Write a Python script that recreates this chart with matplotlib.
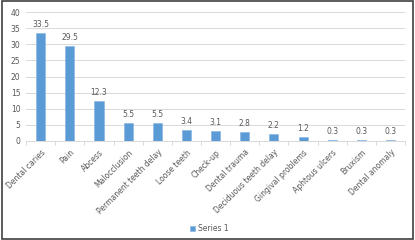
import matplotlib
matplotlib.use("Agg")
import matplotlib.pyplot as plt
import numpy as np

categories = ["Dental caries", "Pain", "Abcess", "Malocclusion", "Permanent teeth delay",
              "Loose teeth", "Check-up", "Dental trauma", "Deciduous teeth delay",
              "Gingival problems", "Aphtous ulcers", "Bruxism", "Dental anomaly"]
values = [33.5, 29.5, 12.3, 5.5, 5.5, 3.4, 3.1, 2.8, 2.2, 1.2, 0.3, 0.3, 0.3]
yticks = [0, 5, 10, 15, 20, 25, 30, 35, 40]

txt = "#595959"
blue = "#5B9BD5"

fig = plt.figure(figsize=(4.15, 2.4), dpi=100)
ax = fig.add_axes([0.063, 0.4125, 0.913, 0.5375])

x = np.arange(len(categories))
ax.bar(x, values, width=0.31, color=blue, edgecolor="#8DB8E2", linewidth=0.5, label="Series 1", zorder=3)
for xi, v in zip(x, values):
    ax.text(xi, v + 1.2, f"{v}", ha="center", va="bottom", fontsize=5.5, color=txt)

ax.set_xlim(-0.5, len(categories) - 0.5)
ax.set_ylim(0, 40)
ax.set_yticks(yticks)
ax.tick_params(axis="y", length=0, labelsize=5.5, labelcolor=txt, pad=4)
ax.grid(axis="y", color="#D9D9D9", linewidth=0.7, zorder=0)

ax.set_xticks(x)
ax.set_xticklabels(categories, rotation=45, ha="right", rotation_mode="anchor", fontsize=5.5, color=txt)
ax.tick_params(axis="x", length=0, pad=5)
ax.set_xticks(np.arange(-0.5, len(categories), 1), minor=True)
ax.tick_params(axis="x", which="minor", length=3, color="#D9D9D9", width=0.7)

for s in ["top", "right", "left"]:
    ax.spines[s].set_visible(False)
ax.spines["bottom"].set_color("#D9D9D9")
ax.spines["bottom"].set_linewidth(0.7)

fig.legend(loc="lower center", bbox_to_anchor=(0.505, 0.0), frameon=False, fontsize=5.5,
           labelcolor=txt, handlelength=0.7, handleheight=0.7, handletextpad=0.4)

border = plt.Rectangle((0.004, 0.006), 0.992, 0.988, transform=fig.transFigure,
                       fill=False, edgecolor="#404040", linewidth=1.2)
fig.patches.append(border)

fig.savefig("out.png", dpi=100)
